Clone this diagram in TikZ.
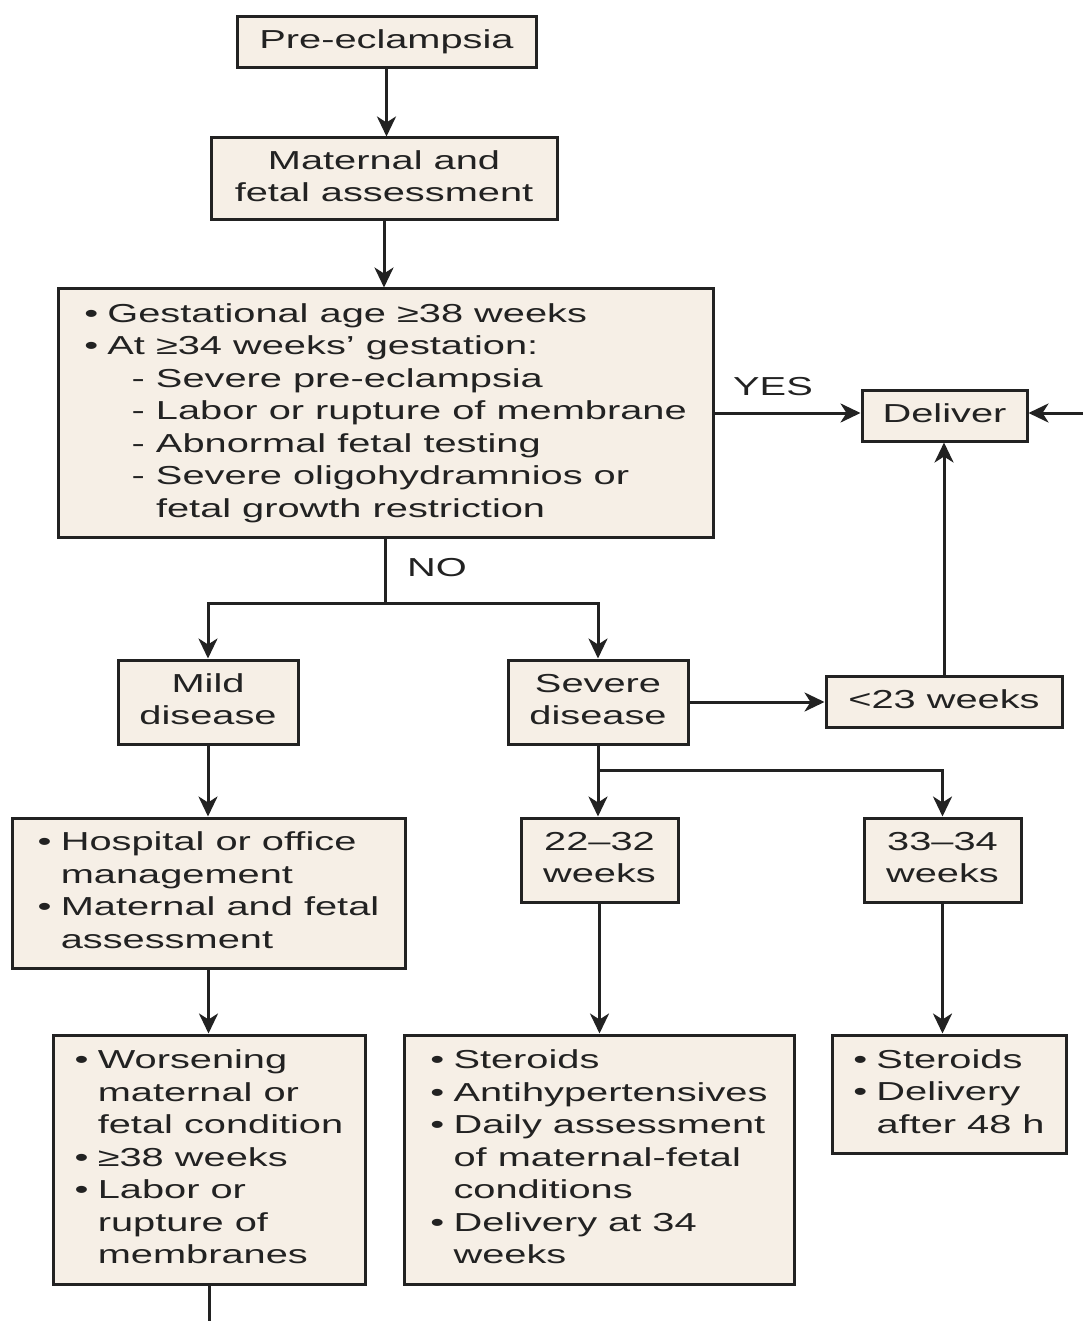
\documentclass[tikz,border=0pt]{standalone}
\usepackage{fontspec}
\usepackage{graphicx}
\setmainfont{Liberation Sans}
\usetikzlibrary{arrows.meta}
\definecolor{boxfill}{HTML}{F6EFE6}
\definecolor{ink}{HTML}{222222}
\newcommand{\sx}[1]{\scalebox{1.53}[1]{#1}}
\newcommand{\tbl}[1]{\sx{\begin{tabular}{@{}l@{}}#1\end{tabular}}}
\newcommand{\tbc}[1]{\sx{\begin{tabular}{@{}c@{}}#1\end{tabular}}}
\newcommand{\bu}{•\hspace{6pt}}
\newcommand{\bul}{\hphantom{•}\hspace{6pt}}
\newcommand{\dsh}{\hspace*{31pt}}
\tikzset{
  box/.style={draw=ink, line width=3pt, fill=boxfill, inner sep=0pt, text=ink,
    font=\fontsize{26}{32.5}\selectfont, anchor=center},
  lbl/.style={inner sep=0pt, text=ink, font=\fontsize{26}{32.5}\selectfont},
  arr/.style={draw=ink, line width=3pt, -{Stealth[length=20pt,width=19pt,inset=6pt]}},
  ln/.style={draw=ink, line width=3pt}
}
\begin{document}
\begin{tikzpicture}[x=1pt,y=-1pt]
\useasboundingbox (0,0) rectangle (1083,1321);
\fill[white] (0,0) rectangle (1083,1321);

\node[box, minimum width=299pt, minimum height=51pt] (pre) at (386.5,42.5) {\tbc{Pre-eclampsia}};
\node[box, minimum width=346pt, minimum height=82pt] (mat) at (384,179) {\tbc{Maternal and\\fetal assessment}};
\node[box, minimum width=655pt, minimum height=248pt] (big) at (385.5,413) {\tbl{\bu Gestational age ≥38 weeks\\
\bu At ≥34 weeks’ gestation:\\
\dsh- Severe pre-eclampsia\\
\dsh- Labor or rupture of membrane\\
\dsh- Abnormal fetal testing\\
\dsh- Severe oligohydramnios or\\
\dsh\hphantom{- }fetal growth restriction}};
\node[box, minimum width=165pt, minimum height=51pt] (deliver) at (944.5,415.5) {\tbc{Deliver}};
\node[box, minimum width=180pt, minimum height=84pt] (mild) at (208,702) {\tbc{Mild\\disease}};
\node[box, minimum width=180pt, minimum height=84pt] (severe) at (598,702) {\tbc{Severe\\disease}};
\node[box, minimum width=236pt, minimum height=51pt] (lt23) at (944,701.5) {\tbc{<23 weeks}};
\node[box, minimum width=393pt, minimum height=150pt] (hosp) at (208.5,893) {\tbl{\bu Hospital or office\\
\bul management\\
\bu Maternal and fetal\\
\bul assessment}};
\node[box, minimum width=157pt, minimum height=84pt] (w2232) at (599.5,860) {\tbc{22–32\\weeks}};
\node[box, minimum width=157pt, minimum height=84pt] (w3334) at (942.5,860) {\tbc{33–34\\weeks}};
\node[box, minimum width=312pt, minimum height=249pt] (worse) at (209,1159.5) {\tbl{\bu Worsening\\
\bul maternal or\\
\bul fetal condition\\
\bu ≥38 weeks\\
\bu Labor or\\
\bul rupture of\\
\bul membranes}};
\node[box, minimum width=390pt, minimum height=249pt] (mid) at (599,1159.5) {\tbl{\bu Steroids\\
\bu Antihypertensives\\
\bu Daily assessment\\
\bul of maternal-fetal\\
\bul conditions\\
\bu Delivery at 34\\
\bul weeks}};
\node[box, minimum width=234pt, minimum height=118pt] (right) at (949,1094) {\tbl{\bu Steroids\\
\bu Delivery\\
\bul after 48 h}};

\node[lbl] (yes) at (773,387) {\sx{YES}};
\node[lbl] (no) at (437,568) {\sx{NO}};

\coordinate (split1) at (385.5,603);
\coordinate (split2) at (598,770);
\coordinate (edge) at (1083,413);
\coordinate (bot) at (209,1321);

\draw[arr] (pre.south) -- (pre.south |- mat.north);
\draw[arr] (mat.south) -- (mat.south |- big.north);
\draw[arr] (big.east) -- (big.east -| deliver.west);
\draw[arr] (edge) -- (edge -| deliver.east);
\draw[ln] (big.south) -- (split1);
\draw[arr] (split1) -| (mild.north);
\draw[arr] (split1) -| (severe.north);
\draw[arr] (severe.east) -- (severe.east -| lt23.west);
\draw[arr] (lt23.north) -- (lt23.north |- deliver.south);
\draw[ln] (severe.south) -- (split2);
\draw[arr] (split2) -- (split2 |- w2232.north);
\draw[arr] (split2) -| (w3334.north);
\draw[arr] (mild) -- (mild.south |- hosp.north);
\draw[arr] (hosp.south) -- (hosp.south |- worse.north);
\draw[arr] (w2232.south) -- (w2232.south |- mid.north);
\draw[arr] (w3334.south) -- (w3334.south |- right.north);
\draw[ln] (worse.south) -- (bot);
\end{tikzpicture}
\end{document}
